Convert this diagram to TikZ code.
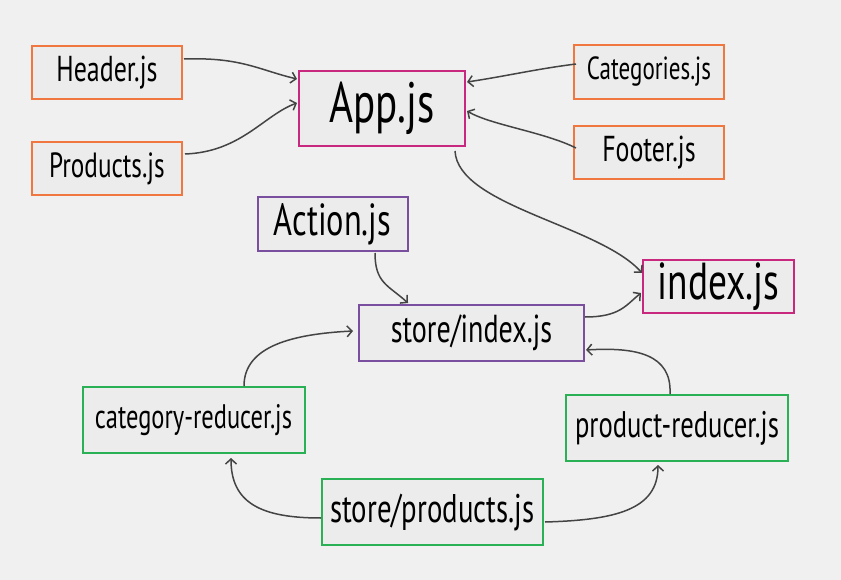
\documentclass[tikz,border=0pt]{standalone}
\usepackage{fontspec}
\setmainfont{PT Sans}[FakeStretch=0.72]
\usetikzlibrary{arrows.meta,calc}
\definecolor{bgc}{HTML}{F0F0F0}
\definecolor{boxfill}{HTML}{ECECEC}
\definecolor{orangeb}{HTML}{F07840}
\definecolor{magentab}{HTML}{C8287E}
\definecolor{purpleb}{HTML}{7B4FA0}
\definecolor{greenb}{HTML}{2AB055}
\definecolor{linec}{HTML}{444444}
\tikzset{
  box/.style={draw, line width=2pt, fill=boxfill, inner sep=0pt, text=black,
    font=\fontsize{34}{40}\selectfont},
  fs/.style={font=\fontsize{#1}{#1}\selectfont},
  obox/.style={box, draw=orangeb},
  mbox/.style={box, draw=magentab},
  pbox/.style={box, draw=purpleb},
  gbox/.style={box, draw=greenb},
  conn/.style={draw=linec, line width=1.5pt, -{Straight Barb[length=5pt,width=11pt]}},
}
\begin{document}
\begin{tikzpicture}[x=1pt,y=-1pt]
\fill[bgc] (0,0) rectangle (841,580);
\useasboundingbox (0,0) rectangle (841,580);

\node[obox, fs=36, minimum width=150pt, minimum height=53pt] (hdr) at (107,72.5) {Header.js};
\node[obox, fs=35, minimum width=150pt, minimum height=53pt] (prd) at (107,168.5) {Products.js};
\node[mbox, fs=57, minimum width=166pt, minimum height=75pt] (app) at (382,108.5) {App.js};
\node[obox, fs=32, minimum width=150pt, minimum height=54pt] (cat) at (649,72) {Categories.js};
\node[obox, fs=36, minimum width=150pt, minimum height=53pt] (ftr) at (649,152.5) {Footer.js};
\node[mbox, fs=52, minimum width=151pt, minimum height=53pt] (idx) at (718.5,286.5) {index.js};
\node[pbox, fs=45, minimum width=150pt, minimum height=54pt] (act) at (332.5,224) {Action.js};
\node[pbox, fs=39, minimum width=225pt, minimum height=56pt] (sidx) at (471.5,333) {store/index.js};
\node[gbox, fs=34, minimum width=222pt, minimum height=66pt] (catred) at (193.5,420) {category-reducer.js};
\node[gbox, fs=37, minimum width=222pt, minimum height=66pt] (prodred) at (677,428) {product-reducer.js};
\node[gbox, fs=40, minimum width=221pt, minimum height=66pt] (sprod) at (432.5,512) {store/products.js};

\draw[conn] ($(hdr.east)+(1,-13.5)$) .. controls +(57,-2) and +(-38,-9) .. ($(app.west)+(-1,-29.5)$);
\draw[conn] ($(prd.east)+(2,-14.5)$) .. controls +(56,-2) and +(-33,12) .. ($(app.west)+(-1,-5.5)$);
\draw[conn] ($(cat.west)+(3,-8)$) .. controls +(-40,5) and +(40,-6) .. ($(app.east)+(1,-26.5)$);
\draw[conn] ($(ftr.west)+(3,-4.5)$) .. controls +(-32,-16) and +(24,14) .. ($(app.east)+(1,2.5)$);
\draw[conn] ($(app.south)+(73,4)$) .. controls +(3,55) and +(-43,-48) .. ($(idx.west)+(0,-13.5)$);
\draw[conn] ($(sidx.east)+(0,-16)$) .. controls +(35,0) and +(-15,12) .. ($(idx.west)+(-1,6.5)$);
\draw[conn] ($(act.south)+(42.5,1)$) .. controls +(0,30) and +(-20,-18) .. ($(sidx.north)+(-63.5,-1)$);
\draw[conn] ($(catred.north)+(50.5,0)$) .. controls +(0,-40) and +(-60,3) .. ($(sidx.west)+(-5,-2)$);
\draw[conn] ($(prodred.north)+(-7,0)$) .. controls +(2,-40) and +(50,-3) .. ($(sidx.east)+(1,17)$);
\draw[conn] ($(sprod.west)+(0,6)$) .. controls +(-60,0) and +(0,45) .. ($(catred.south)+(37.5,4)$);
\draw[conn] ($(sprod.east)+(1,10)$) .. controls +(70,-2) and +(0,45) .. ($(prodred.south)+(-19,3)$);
\end{tikzpicture}
\end{document}
